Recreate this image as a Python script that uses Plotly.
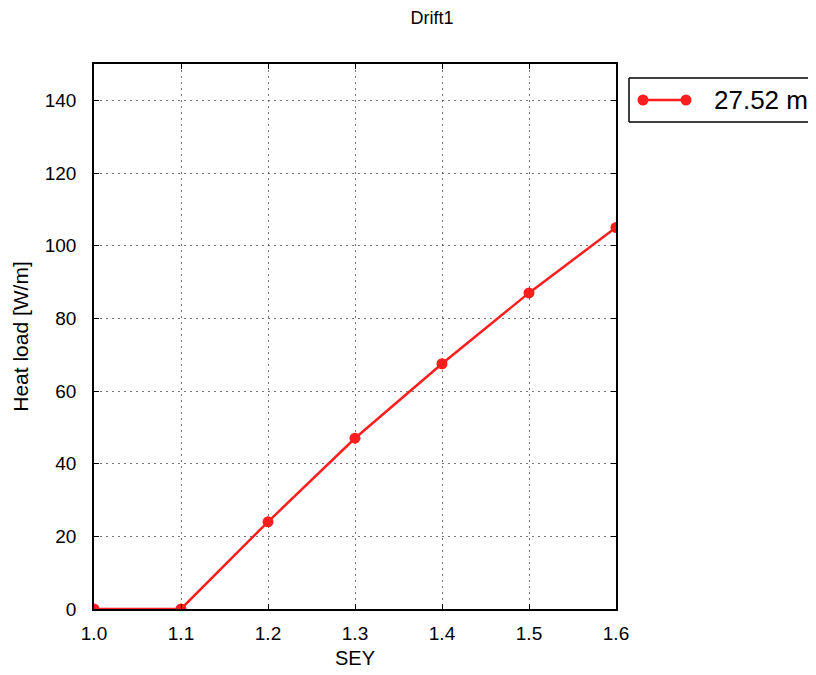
import plotly.graph_objects as go

sey = [1.0, 1.1, 1.2, 1.3, 1.4, 1.5, 1.6]
heat_load = [0.0, 0.0, 24.0, 47.0, 67.5, 87.0, 105.0]
series_name = "27.52 m"
title_text = "Drift1"
x_ticks = [1.0, 1.1, 1.2, 1.3, 1.4, 1.5, 1.6]
x_tick_labels = ["1.0", "1.1", "1.2", "1.3", "1.4", "1.5", "1.6"]
y_ticks = [0, 20, 40, 60, 80, 100, 120, 140]

RED = "rgb(255,30,30)"
FONT = "Liberation Sans, Arial, sans-serif"

# page is offset by the body margin (8px); work in page pixels and convert
OFF = 8
W, H = 816, 675
PL, PR, PT, PB = 94, 616, 64, 609  # plot area in page pixels
ML = PL - OFF
MT = PT - OFF
MR = W - (PR - OFF)
MB = H - (PB - OFF)
PW = PR - PL
PH = PB - PT

def px(x):
    return (x - PL) / PW

def py(y):
    return (PB - y) / PH

fig = go.Figure()
fig.add_trace(go.Scatter(
    x=sey, y=heat_load, mode="lines+markers", name=series_name,
    line=dict(color=RED, width=2.5),
    marker=dict(color=RED, size=11),
    showlegend=False,
))

axis_common = dict(
    showline=True, linecolor="black", linewidth=1.5, mirror="ticks",
    ticks="inside", ticklen=5, tickcolor="black", tickwidth=1,
    showgrid=True, gridcolor="rgba(70,70,70,0.75)", griddash="2px,4px", gridwidth=1,
    zeroline=False,
    tickfont=dict(family=FONT, size=19, color="black"),
)

fig.update_xaxes(range=[1.0, 1.6], tickvals=x_ticks, ticktext=x_tick_labels,
                 ticklabelstandoff=6,
                 title=dict(text="SEY", font=dict(family=FONT, size=20, color="black"), standoff=8),
                 **axis_common)
fig.update_yaxes(range=[0, 150], tickvals=y_ticks, ticklabelstandoff=12,
                 title=dict(text="Heat load [W/m]", font=dict(family=FONT, size=21, color="black"), standoff=10),
                 **axis_common)

LX0, LX1, LY0, LY1 = 629, 900, 78, 122
border = dict(color="black", width=1.5)
shapes = [
    dict(type="line", xref="paper", yref="paper", x0=px(LX0), x1=px(LX1), y0=py(LY0), y1=py(LY0),
         line=border, layer="above"),
    dict(type="line", xref="paper", yref="paper", x0=px(LX0), x1=px(LX1), y0=py(LY1), y1=py(LY1),
         line=border, layer="above"),
    dict(type="line", xref="paper", yref="paper", x0=px(LX0), x1=px(LX0), y0=py(LY0), y1=py(LY1),
         line=border, layer="above"),
    dict(type="line", xref="paper", yref="paper", x0=px(643), x1=px(686), y0=py(100), y1=py(100),
         line=dict(color=RED, width=2.5), layer="above"),
]
for cx in (643, 686):
    shapes.append(dict(type="circle", xref="paper", yref="paper",
                       x0=px(cx - 5.5), x1=px(cx + 5.5), y0=py(100 + 5.5), y1=py(100 - 5.5),
                       line=dict(color=RED, width=0), fillcolor=RED, layer="above"))

fig.update_layout(
    width=W, height=H,
    margin=dict(l=ML, r=MR, t=MT, b=MB),
    paper_bgcolor="white", plot_bgcolor="white",
    title=dict(text=title_text, x=(432 - OFF) / W, xanchor="center", y=1 - (18 - OFF) / H, yanchor="middle",
               font=dict(family=FONT, size=18, color="black")),
    shapes=shapes,
    annotations=[dict(text=series_name, xref="paper", yref="paper", x=px(712), y=py(100),
                      xanchor="left", yanchor="middle", showarrow=False,
                      font=dict(family=FONT, size=26, color="black"))],
    showlegend=False,
)

fig.write_html("out.html")
